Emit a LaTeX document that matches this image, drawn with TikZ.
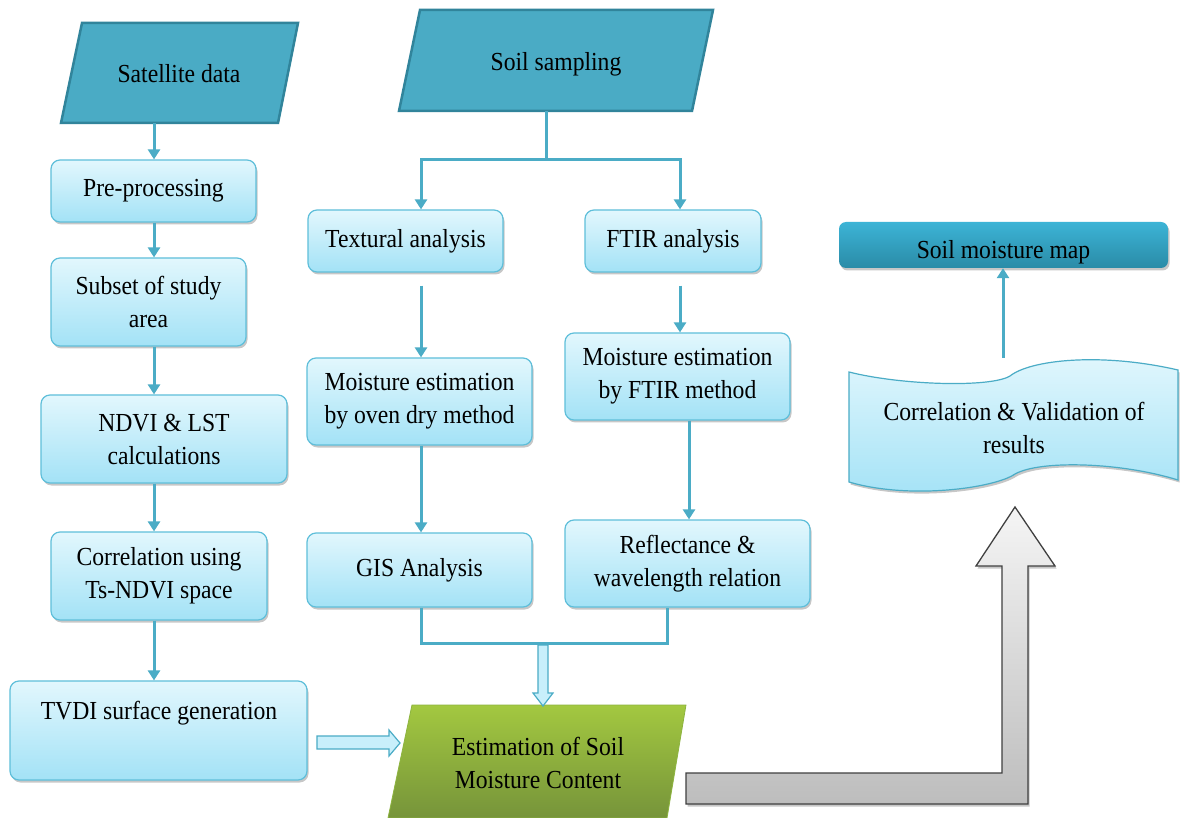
\documentclass[tikz,border=0pt]{standalone}
\usepackage{fontspec}
\setmainfont{Liberation Serif}[FakeStretch=0.91]
\usetikzlibrary{arrows.meta,shadows,calc}
\definecolor{cTealFill}{HTML}{4AABC5}
\definecolor{cTealLine}{HTML}{31849B}
\definecolor{cConn}{HTML}{4BACC6}
\definecolor{cBoxTop}{HTML}{E2F7FD}
\definecolor{cBoxBot}{HTML}{A3E2F6}
\definecolor{cBoxLine}{HTML}{5FBFDA}
\definecolor{cMapTop}{HTML}{3CB4D6}
\definecolor{cMapBot}{HTML}{2A8BA7}
\definecolor{cGreenTop}{HTML}{A3C840}
\definecolor{cGreenBot}{HTML}{76943A}
\definecolor{cGreenLine}{HTML}{8DB43F}
\definecolor{cGreyTop}{HTML}{F5F5F5}
\definecolor{cGreyBot}{HTML}{BDBDBD}
\definecolor{cGreyLine}{HTML}{404040}
\definecolor{cHollow}{HTML}{C8EFFB}
\begin{document}
\begin{tikzpicture}[x=1pt,y=-1pt,
  every node/.style={font=\fontsize{26}{33}\selectfont, text=black},
  softshadow/.style={drop shadow={shadow xshift=1.5pt, shadow yshift=-2.5pt, opacity=0.22, fill=black}},
  lbox/.style={draw=cBoxLine, line width=1.2pt, rounded corners=9pt, top color=cBoxTop, bottom color=cBoxBot, align=center, inner sep=0pt, softshadow},
  lbl/.style={align=center, inner sep=0pt},
  conn/.style={draw=cConn, line width=3pt},
  arr/.style={conn, -{Triangle[width=12pt,length=10pt]}},
  hollowarr/.style={draw=cConn, line width=1.2pt, fill=cHollow, line join=miter},
  tealshape/.style={fill=cTealFill, draw=cTealLine, line width=2.5pt, line join=miter},
  wave/.style={draw=cConn, line width=1.2pt, top color=cBoxTop, bottom color=cBoxBot, softshadow},
  greenshape/.style={draw=cGreenLine, line width=0.8pt, top color=cGreenTop, bottom color=cGreenBot},
  greyarrow/.style={draw=cGreyLine, line width=1.3pt, top color=cGreyTop, bottom color=cGreyBot, line join=miter, softshadow}]
\fill[white] (0,0) rectangle (1187,818);
\useasboundingbox (0,0) rectangle (1187,818);

% ---------- left column ----------
\draw[tealshape] (82,23) -- (298,23) -- (278,123) -- (61,123) -- cycle;
\node[lbl] (sat) at (179,74) {Satellite data};
\coordinate (satb) at (154,123);
\coordinate (lc) at (154,0);

\node[lbox, minimum width=205, minimum height=62] (pre) at (153.5,191) {Pre-processing};
\node[lbox, minimum width=195, minimum height=88] (sub) at (148.5,302) {Subset of study\\area};
\node[lbox, minimum width=246, minimum height=88] (ndvi) at (164,439) {NDVI \& LST\\calculations};
\node[lbox, minimum width=216, minimum height=88] (corr) at (159,576) {Correlation using\\Ts-NDVI space};
\node[lbox, minimum width=297, minimum height=99] (tvdi) at (158.5,730.5) {};
\node[lbl] (tvdit) at (159,713) {TVDI surface generation};

\draw[arr] (satb) -- (lc |- pre.north);
\draw[arr] (lc |- pre.south) -- (lc |- sub.north);
\draw[arr] (lc |- sub.south) -- (lc |- ndvi.north);
\draw[arr] (lc |- ndvi.south) -- (lc |- corr.north);
\draw[arr] (lc |- corr.south) -- (lc |- tvdi.north);

% ---------- middle columns ----------
\draw[tealshape] (420,10) -- (713,10) -- (692,111) -- (399,111) -- cycle;
\node[lbl] (soil) at (556,64) {Soil sampling};
\coordinate (soilb) at (546,111);
\coordinate (split) at (546,160);
\coordinate (bl) at (421,160);
\coordinate (br) at (680,160);
\coordinate (br2) at (689,0);

\node[lbox, minimum width=195, minimum height=62] (tex) at (405.5,241) {Textural analysis};
\node[lbox, minimum width=176, minimum height=62] (ftir) at (673,241) {FTIR analysis};
\node[lbox, minimum width=225, minimum height=87] (moven) at (419.5,401.5) {Moisture estimation\\by oven dry method};
\node[lbox, minimum width=225, minimum height=87] (mftir) at (677.5,376.5) {Moisture estimation\\by FTIR method};
\node[lbox, minimum width=225, minimum height=74] (gis) at (419.5,570) {GIS Analysis};
\node[lbox, minimum width=245, minimum height=87] (refl) at (687.5,563.5) {Reflectance \&\\wavelength relation};

\draw[conn] (soilb) -- (split);
\draw[arr] (split) -- (bl) -- (bl |- tex.north);
\draw[arr] (split) -- (br) -- (br |- ftir.north);
\draw[arr] ($(bl |- tex.south)+(0,13)$) -- (bl |- moven.north);
\draw[arr] ($(br |- ftir.south)+(0,13)$) -- (br |- mftir.north);
\draw[arr] (bl |- moven.south) -- (bl |- gis.north);
\draw[arr] (br2 |- mftir.south) -- (br2 |- refl.north);

\coordinate (jl) at (421,643);
\coordinate (jr) at (667,643);
\draw[conn, line join=miter] (jl |- gis.south) -- (jl) -- (jr) -- (jr |- refl.south);

% ---------- estimation ----------
\draw[greenshape] (412,705) -- (686,705) -- (667,818) -- (388,818) -- cycle;
\node[lbl] (est) at (538,763) {Estimation of Soil\\Moisture Content};

% hollow arrows
\draw[hollowarr] (538,645) -- (548,645) -- (548,693) -- (553,693) -- (543,706) -- (533,693) -- (538,693) -- cycle;
\draw[hollowarr] (317,736) -- (389,736) -- (389,730) -- (400,743) -- (389,756) -- (389,749) -- (317,749) -- cycle;

% grey bent arrow
\draw[greyarrow] (686,773) -- (1002,773) -- (1002,566) -- (976,566) -- (1015,507) -- (1055,566) -- (1028,566) -- (1028,804) -- (686,804) -- cycle;

% ---------- right ----------
\draw[wave] (849,372) .. controls (900,385) and (990,388) .. (1010,376)
  .. controls (1030,360) and (1100,352) .. (1178,370)
  -- (1178,480)
  .. controls (1120,462) and (1040,460) .. (1015,474)
  .. controls (995,488) and (910,500) .. (849,482) -- cycle;
\node[lbl] (val) at (1014,428) {Correlation \& Validation of\\results};
\coordinate (valt) at (1003,358);

\node[draw=none, rounded corners=7pt, top color=cMapTop, bottom color=cMapBot, minimum width=329, minimum height=46, inner sep=0pt, softshadow] (map) at (1003.5,245) {};
\node[lbl] (mapt) at (1003.5,252) {Soil moisture map};

\draw[arr] (valt) -- (valt |- map.south);
\end{tikzpicture}
\end{document}
